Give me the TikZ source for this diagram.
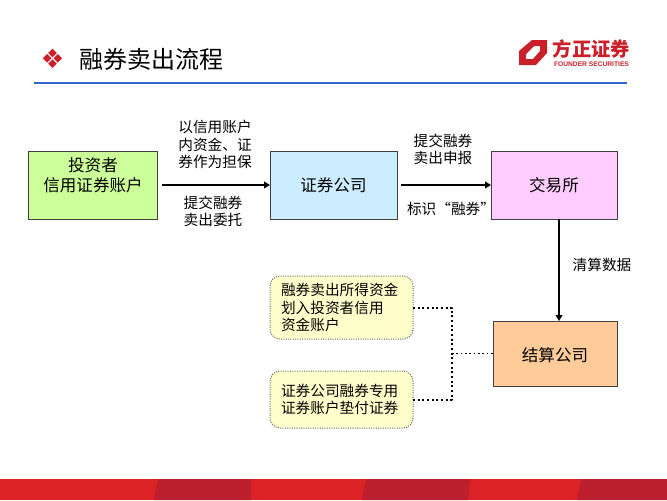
\documentclass[tikz,border=0pt]{standalone}
\usepackage{fontspec}
\setmainfont{Noto Sans CJK SC}
\newfontfamily\symfont{DejaVu Sans}
\newfontfamily\logofont{Liberation Sans}
\usetikzlibrary{arrows.meta}
\definecolor{logored}{HTML}{C9202A}
\definecolor{bandred}{HTML}{DC2227}
\definecolor{banddark}{HTML}{BC1F2E}
\definecolor{ruleblue}{HTML}{3366CC}
\definecolor{boxgreen}{HTML}{CCFF99}
\definecolor{boxblue}{HTML}{CCECFF}
\definecolor{boxpink}{HTML}{FFCCFF}
\definecolor{boxorange}{HTML}{FFCC99}
\definecolor{boxyellow}{HTML}{FFFFCC}
\tikzset{every picture/.style={line width=0.75pt},
	flowbox/.style={draw=black!75,line width=0.75pt,inner sep=0pt,outer sep=0pt,align=center,font=\fontsize{12.4}{15}\selectfont},
	notebox/.style={draw=black!60,densely dotted,rounded corners=7.5pt,fill=boxyellow,inner sep=0pt,outer sep=0pt,minimum width=107.25pt,text width=90.75pt,align=left,font=\fontsize{11}{13}\selectfont},
	flowlabel/.style={inner sep=0.75pt,align=center,font=\fontsize{11}{13}\selectfont},
	flowarrow/.style={line width=1.5pt,-{Triangle[length=4.5pt,width=5pt]}},
	dotlink/.style={line width=1.5pt,dotted,line join=round}}
\begin{document}
\begin{tikzpicture}[x=0.75pt,y=0.75pt,yscale=-1,xscale=1]
		\useasboundingbox (0,0) rectangle (667,500);
		
		%Bottom band
		\fill [bandred] (0,479) rectangle (667,500);
		\fill [banddark] (158,479) -- (251,479) -- (251,500) -- (154,500) -- cycle;
		\fill [banddark] (366,479) -- (470,479) -- (468,500) -- (362,500) -- cycle;
		\fill [banddark] (581,479) -- (667,479) -- (667,500) -- (577,500) -- cycle;
		
		%Title
		\node (bullet) at (52.5,59) [inner sep=0pt,text=logored,font=\symfont\fontsize{20}{20}\selectfont] {❖};
		\node (title) at (151,59.5) [inner sep=0pt,font=\fontsize{18}{20}\selectfont] {融券卖出流程};
		\draw [ruleblue,line width=1.5pt] (34,83) -- (627,83);
		
		%Logo
		\fill [logored,even odd rule] (519,51) -- (532,40) -- (547,40) -- (547,53) -- (536,65) -- (519,65) -- cycle
			(526,54) -- (526,59) -- (533,59) -- (540,51) -- (540,46) -- (534,46) -- cycle;
		\node (logoname) at (591.5,49.5) [inner sep=0pt,text=logored,font=\bfseries\fontsize{14.5}{15}\selectfont] {方正证券};
		\node (logosub) at (591.5,64.5) [inner sep=0pt,text=logored,font=\logofont\bfseries\fontsize{5}{6}\selectfont] {FOUNDER SECURITIES};
		
		%Flow boxes
		\node (investor) at (92.5,185) [flowbox,fill=boxgreen,minimum width=96.75pt,minimum height=51pt] {};
		\node (investortext) at (93,175) [inner sep=0pt,align=center,font=\fontsize{12.4}{15}\selectfont] {投资者\\信用证券账户};
		\node (broker) at (333.5,185) [flowbox,fill=boxblue,minimum width=95.25pt,minimum height=51pt] {证券公司};
		\node (exchange) at (554,185) [flowbox,fill=boxpink,minimum width=94.5pt,minimum height=51pt] {交易所};
		\node (clearing) at (555,353.5) [flowbox,fill=boxorange,minimum width=93pt,minimum height=48.75pt] {};
		\node (clearingtext) at (555,355) [inner sep=0pt,font=\fontsize{12.4}{15}\selectfont] {结算公司};
		
		%Note boxes
		\node (fundsnote) at (341.5,307.5) [notebox,minimum height=47.25pt] {融券卖出所得资金\\划入投资者信用\\资金账户};
		\node (stocknote) at (341.5,399.5) [notebox,minimum height=42.75pt] {证券公司融券专用\\证券账户垫付证券};
		\coordinate (dotjoin) at (452,353.5);
		
		%Connectors
		\draw [flowarrow,shorten <=3.75pt] (investor.east) -- (broker.west);
		\draw [flowarrow,shorten <=3pt] (broker.east) -- (exchange.west);
		\draw [flowarrow] ([xshift=3.75pt]exchange.south) -- ([xshift=3pt]clearing.north);
		\draw [dotlink] (fundsnote.east) -| (dotjoin) |- (stocknote.east);
		\draw [line width=1.25pt,dotted] (dotjoin) -- (clearing.west);
		
		% Text Node
		\node (pledge) at (215,144.5) [flowlabel] {以信用账户\\内资金、证\\券作为担保};
		% Text Node
		\node (entrust) at (213,211.5) [flowlabel] {提交融券\\卖出委托};
		% Text Node
		\node (report) at (443,149.5) [flowlabel] {提交融券\\卖出申报};
		% Text Node
		\node (mark) at (451,209) [flowlabel] {标识“融券”};
		% Text Node
		\node (cleardata) at (602,264.5) [flowlabel] {清算数据};
		
	\end{tikzpicture}
\end{document}
